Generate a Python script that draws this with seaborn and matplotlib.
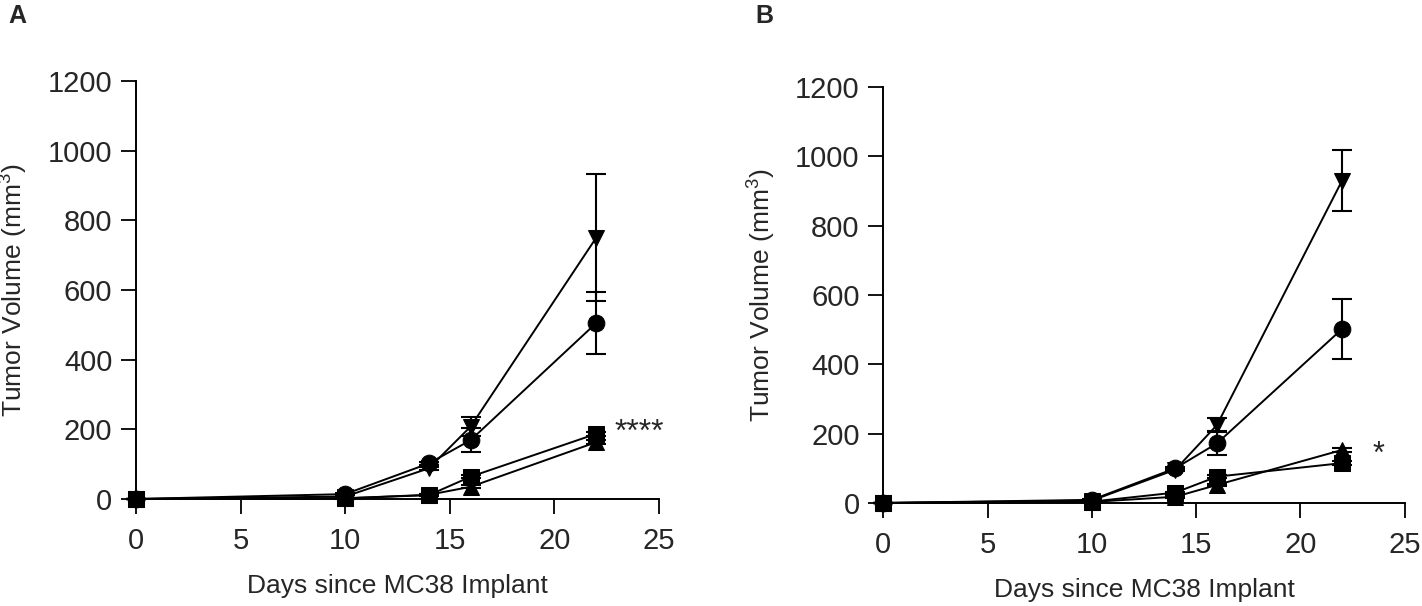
import numpy as np
import pandas as pd
import matplotlib
matplotlib.use("Agg")
import matplotlib.pyplot as plt
import seaborn as sns

# ---------------- data ----------------
days = [0, 10, 14, 16, 22]
groups = ["circle", "down", "square", "up"]

# Panel A (means, SEM)
a_circle = [0, 14, 102, 169, 505]
a_down = [0, 7, 88, 208, 750]
a_square = [0, 2, 11, 64, 187]
a_up = [0, 2, 12, 35, 163]
a_circle_sem = [0, 3, 4, 34, 88]
a_down_sem = [0, 3, 4, 28, 182]
a_square_sem = [0, 1, 3, 4, 5]
a_up_sem = [0, 1, 3, 4, 5]

# Panel B (means, SEM)
b_circle = [0, 9, 100, 172, 502]
b_down = [0, 7, 96, 225, 930]
b_square = [0, 4, 30, 76, 115]
b_up = [0, 3, 18, 52, 153]
b_circle_sem = [0, 3, 4, 35, 87]
b_down_sem = [0, 3, 4, 20, 88]
b_square_sem = [0, 1, 3, 4, 5]
b_up_sem = [0, 1, 3, 4, 5]

xticks = [0, 5, 10, 15, 20, 25]
yticks = [0, 200, 400, 600, 800, 1000, 1200]
xlabel = "Days since MC38 Implant"
ylabel = "Tumor Volume (mm$^3$)"
panel_labels = ["A", "B"]
sig_labels = ["****", "*"]

# ---------------- style ----------------
sns.set_style("ticks")
plt.rcParams["font.family"] = ["Liberation Sans", "DejaVu Sans"]
plt.rcParams["mathtext.default"] = "regular"

markers = {"circle": "o", "down": "v", "square": "s", "up": "^"}
msizes = {"circle": 12, "down": 12, "square": 11, "up": 12}


def long_df(means):
    rows = []
    for g, vals in zip(groups, means):
        for d, v in zip(days, vals):
            rows.append({"day": d, "volume": v, "group": g})
    return pd.DataFrame(rows)


fig = plt.figure(figsize=(14.22, 6.06), dpi=100)
axA = fig.add_axes([0.0956, 0.1766, 0.3678, 0.6898])
axB = fig.add_axes([0.6212, 0.1700, 0.3666, 0.6865])

panels = [
    (axA, [a_circle, a_down, a_square, a_up],
     [a_circle_sem, a_down_sem, a_square_sem, a_up_sem]),
    (axB, [b_circle, b_down, b_square, b_up],
     [b_circle_sem, b_down_sem, b_square_sem, b_up_sem]),
]

for ax, means, sems in panels:
    df = long_df(means)
    for g, m, s in zip(groups, means, sems):
        ax.errorbar(days, m, yerr=s, fmt="none", ecolor="black",
                    elinewidth=1.5, capsize=7, capthick=1.5,
                    clip_on=False, zorder=2)
    for g in groups:
        sub = df[df["group"] == g]
        sns.lineplot(data=sub, x="day", y="volume", ax=ax, color="black",
                     marker=markers[g], markersize=msizes[g],
                     markeredgecolor="black", markerfacecolor="black",
                     linewidth=1.4, legend=False, clip_on=False, zorder=3,
                     errorbar=None)
    ax.set_xlim(0, 25)
    ax.set_ylim(0, 1200)
    ax.set_xticks(xticks)
    ax.set_yticks(yticks)
    ax.tick_params(axis="both", labelsize=21, length=11, width=1.3,
                   direction="out", color="black")
    ax.tick_params(axis="x", pad=9)
    ax.tick_params(axis="y", pad=6)
    for sp in ["left", "bottom"]:
        ax.spines[sp].set_linewidth(1.4)
        ax.spines[sp].set_color("black")
    sns.despine(ax=ax)
    ax.set_xlabel(xlabel, fontsize=19, labelpad=14)
    ax.set_ylabel(ylabel, fontsize=19)

axA.yaxis.set_label_coords(-0.203, 0.5)
axB.yaxis.set_label_coords(-0.2015, 0.5)

# significance marks
axA.text(22.9, 190, sig_labels[0], fontsize=23, ha="left", va="center")
axB.text(23.45, 140, sig_labels[1], fontsize=22, ha="left", va="center")

# panel letters
fig.text(0.0056, 0.974, panel_labels[0], fontsize=18, fontweight="bold",
         ha="left", va="center")
fig.text(0.531, 0.974, panel_labels[1], fontsize=18, fontweight="bold",
         ha="left", va="center")

fig.savefig("out.png", dpi=100)
